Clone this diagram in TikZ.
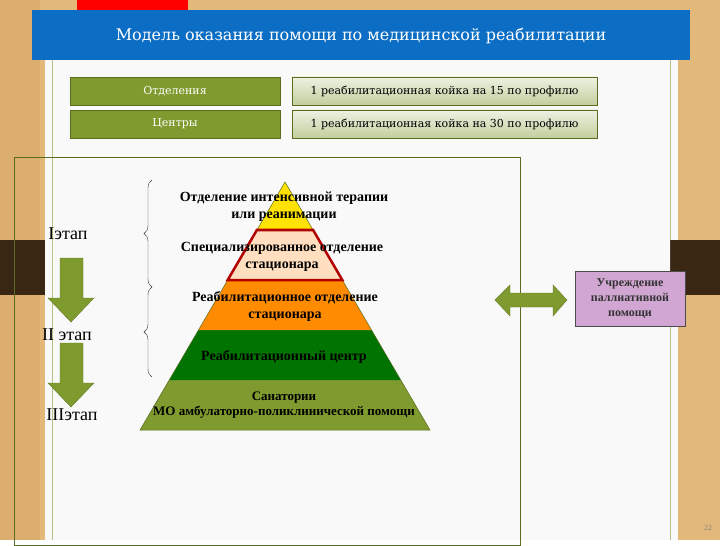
\documentclass[tikz,border=0pt]{standalone}
\usepackage{fontspec}
\setmainfont{Liberation Serif}
\newfontfamily\dvs{DejaVu Serif}
\usetikzlibrary{decorations.pathreplacing}
\definecolor{wood}{HTML}{E2B97A}
\definecolor{olive}{HTML}{7F9A2E}
\definecolor{lightol}{HTML}{D3DCB8}
\definecolor{ttl}{HTML}{0B6DC3}
\tikzset{pyrtext/.style={font=\bfseries\fontsize{14}{17}\selectfont,align=center},
 olivebox/.style={draw=olive!70!black,fill=olive,text=white,minimum width=210pt,minimum height=28pt,font=\dvs\fontsize{11}{12}\selectfont},
 lightbox/.style={draw=olive!70!black,top color=lightol!40,bottom color=lightol!80!olive,minimum width=305pt,minimum height=28pt,font=\dvs\fontsize{11}{12}\selectfont},
 arrfill/.style={fill=olive,draw=olive!80!black},
 stage/.style={font=\fontsize{18}{19}\selectfont}}
\begin{document}
\begin{tikzpicture}[x=1pt,y=-1pt]
\fill[wood] (0,0) rectangle (720,540);
\fill[wood!80!brown] (0,0) rectangle (40,540);
\fill[white!95!gray] (45,55) rectangle (678,540);
\draw[olive!60,line width=1pt] (52,55) -- (52,540) (670,55) -- (670,540);
\fill[red] (77,0) rectangle (188,12);
\fill[ttl] (32,10) rectangle (690,60);
\node[text=white,font=\dvs\fontsize{16}{17}\selectfont] (title) at (361,36) {Модель оказания помощи по медицинской реабилитации};
\fill[black!70!brown] (0,240) rectangle (52,295);
\fill[black!70!brown] (667,240) rectangle (720,295);
\fill[white!95!gray] (45,240) rectangle (52,295) (667,240) rectangle (670,295);
\draw[olive!70!black,line width=0.6pt] (14,157) rectangle (520,545);
\node[olivebox] (o1) at (175,91) {Отделения};
\node[lightbox] (l1) at (444.5,91) {1 реабилитационная койка на 15 по профилю};
\node[olivebox] (o2) at (175,124) {Центры};
\node[lightbox] (l2) at (444.5,124) {1 реабилитационная койка на 30 по профилю};
% pyramid
\fill[olive] (140,430) -- (430,430) -- (400.8,380) -- (169.2,380) -- cycle;
\fill[green!45!black] (169.2,380) -- (400.8,380) -- (371.5,330) -- (198.5,330) -- cycle;
\fill[orange!90!yellow] (198.5,330) -- (371.5,330) -- (342.3,280) -- (227.7,280) -- cycle;
\fill[orange!25] (227.7,280) -- (342.3,280) -- (313.1,230) -- (256.9,230) -- cycle;
\fill[yellow!85!orange] (256.9,230) -- (313.1,230) -- (285,182) -- cycle;
\draw[olive!70!black,line width=0.5pt] (140,430) -- (430,430) -- (285,182) -- cycle;
\draw[red!70!black,line width=2.5pt] (227.7,280) -- (342.3,280) -- (313.1,230) -- (256.9,230) -- cycle;
\node[pyrtext] (p1) at (284,207) {Отделение интенсивной терапии\\или реанимации};
\node[pyrtext] (p2) at (282,257) {Специализированное отделение\\стационара};
\node[pyrtext] (p3) at (285,306) {Реабилитационное отделение\\стационара};
\node[pyrtext] (p4) at (284,357) {Реабилитационный центр};
\node[pyrtext,font=\bfseries\fontsize{13}{15}\selectfont] (p5) at (284,405) {Санатории\\МО амбулаторно-поликлинической помощи};
\draw[decorate,decoration={brace,amplitude=8pt,mirror},black!80] (152,180) -- (152,287);
\draw[decorate,decoration={brace,amplitude=8pt,mirror},black!80] (152,287) -- (152,377);
\node[stage] (s1) at (68,234) {Iэтап};
\node[stage] (s2) at (67,335) {II этап};
\node[stage] (s3) at (72,415) {IIIэтап};
\path[arrfill] (60,258) -- (83,258) -- (83,298) -- (94,298) -- (71,322) -- (48,298) -- (60,298) -- cycle;
\path[arrfill] (60,343) -- (83,343) -- (83,383) -- (94,383) -- (71,407) -- (48,383) -- (60,383) -- cycle;
\path[arrfill] (495,300) -- (510,285) -- (510,293) -- (553,293) -- (553,285) -- (567,300) -- (553,316) -- (553,307) -- (510,307) -- (510,316) -- cycle;
\node[draw=black!70,fill=violet!35,minimum width=110pt,minimum height=55pt,align=center,font=\bfseries\fontsize{12}{15}\selectfont,text=black!80] (pal) at (630,298.5) {Учреждение\\паллиативной\\помощи};
\node[font=\fontsize{8}{9}\selectfont,text=black!50] (pg) at (708,528) {22};
\end{tikzpicture}
\end{document}
